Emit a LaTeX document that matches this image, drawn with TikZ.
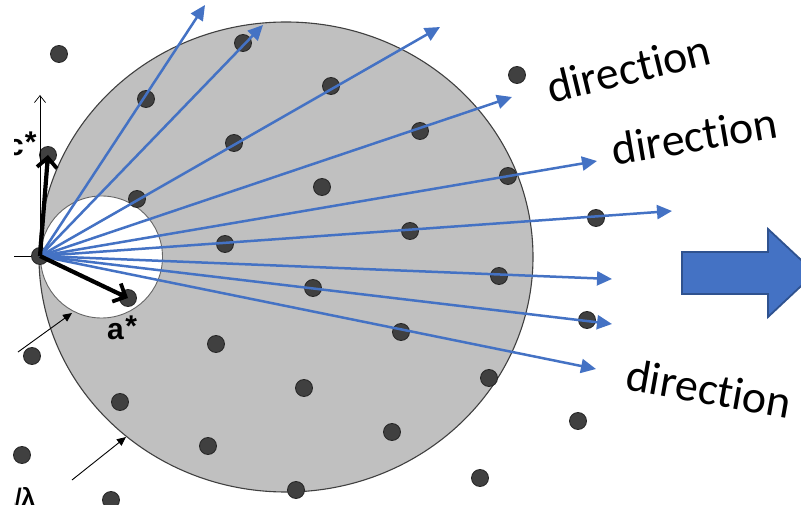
\documentclass[tikz,border=0pt]{standalone}
\usepackage{fontspec}
\setmainfont{Carlito}[Ligatures=NoCommon]
\newfontfamily\labfont{Liberation Sans}
\usetikzlibrary{arrows.meta}

\definecolor{sphere}{HTML}{C0C0C0}
\definecolor{rim}{HTML}{404040}
\definecolor{dotfill}{HTML}{404040}
\definecolor{dotrim}{HTML}{262626}
\definecolor{ray}{HTML}{4472C4}
\definecolor{blockrim}{HTML}{2F528F}

\tikzset{
  latt/.style={circle, fill=dotfill, draw=dotrim, line width=0.8pt,
               minimum size=17pt, inner sep=0pt},
  rayarrow/.style={draw=ray, line width=2.5pt,
                   -{Triangle[length=15pt,width=14pt]}},
  recip/.style={draw=black, line width=4.2pt,
                -{Straight Barb[length=10pt,width=20pt,line width=3.8pt]}},
  pointer/.style={draw=black, line width=0.9pt,
                  -{Triangle[length=9pt,width=8pt]}},
  axisline/.style={draw=black, line width=0.7pt},
  dirlabel/.style={font=\fontsize{46}{50}\selectfont, inner sep=0pt,
                   anchor=base west},
  veclabel/.style={font=\labfont\bfseries\fontsize{30}{34}\selectfont,
                   inner sep=0pt, anchor=base west}
}

\begin{document}
\begin{tikzpicture}[x=1pt, y=-1pt]
\useasboundingbox (0,0) rectangle (801,505);

% Ewald sphere and the limiting sphere around the origin
\draw[fill=sphere, draw=rim, line width=1.1pt]
  (286,257) ellipse [x radius=247pt, y radius=235pt];
\draw[fill=white, draw=rim!80, line width=0.9pt]
  (101.5,257) circle [radius=61pt];

% reciprocal lattice points
\foreach \px/\py [count=\i] in {
  59/54, 243/43, 146/99, 331/86, 517/75, 234/143, 420/131,
  322/187, 508/176, 137/199, 596/218, 410/231, 225/244,
  499/276, 313/288, 587/320, 401/332, 216/344, 32/356,
  489/378, 304/388, 120/402, 578/421, 392/432, 208/446,
  22/455, 480/478, 296/490, 111/500}
  \node[latt] (d\i) at (\px,\py) {};
\node[latt] (C) at (48,155) {};
\node[latt] (A) at (128,298) {};

% thin axes through the origin
\coordinate (axl) at (14,256);
\coordinate (axt) at (40,95);
\draw[axisline] (axl) -- (40,256);
\draw[axisline, -{Straight Barb[length=7pt,width=11pt,line width=0.7pt]}]
  (40,256) -- (axt);
\node[latt] (O) at (40,256) {};

% diffracted beam directions
\coordinate (t1) at (205,5);
\coordinate (t2) at (263,25);
\coordinate (t3) at (440,27);
\coordinate (t4) at (512,97);
\coordinate (t5) at (597,161);
\coordinate (t6) at (672,211);
\coordinate (t7) at (612,279);
\coordinate (t8) at (612,324);
\coordinate (t9) at (596,369);
\foreach \k in {1,...,9}
  \draw[rayarrow] (O.center) -- (t\k);

% reciprocal basis vectors
\draw[recip] (O.center) -- (C.center);
\draw[recip] (O.center) -- (A.center);

% radius pointers
\coordinate (p1s) at (18,352);
\coordinate (p1e) at (72,313);
\coordinate (p2s) at (72,480);
\coordinate (p2e) at (126,437);
\draw[pointer] (p1s) -- (p1e);
\draw[pointer] (p2s) -- (p2e);

% labels
\begin{scope}
  \clip (14,100) rectangle (80,175);
  \node[veclabel] (lc) at (7,156) {c\kern1pt\raisebox{3pt}{*}};
\end{scope}
\node[veclabel] (la) at (107,339) {a\kern1.5pt\raisebox{3pt}{*}};
\begin{scope}
  \clip (14,470) rectangle (80,505);
  \node[veclabel, font=\labfont\bfseries\fontsize{24}{28}\selectfont]
    (ll) at (1.5,505.5) {1/λ};
\end{scope}

\node[dirlabel, rotate=13.7] (dir1) at (551,103.5) {direction};
\node[dirlabel, rotate=9.7] (dir2) at (614.5,165.5) {direction};
\node[dirlabel, rotate=-10] (dir3) at (624,389.5) {direction};

% block arrow
\draw[fill=ray, draw=blockrim, line width=1.8pt, line join=miter]
  (682,252) -- (768,252) -- (768,229) -- (815,273) -- (768,317)
  -- (768,294) -- (682,294) -- cycle;
\end{tikzpicture}
\end{document}
